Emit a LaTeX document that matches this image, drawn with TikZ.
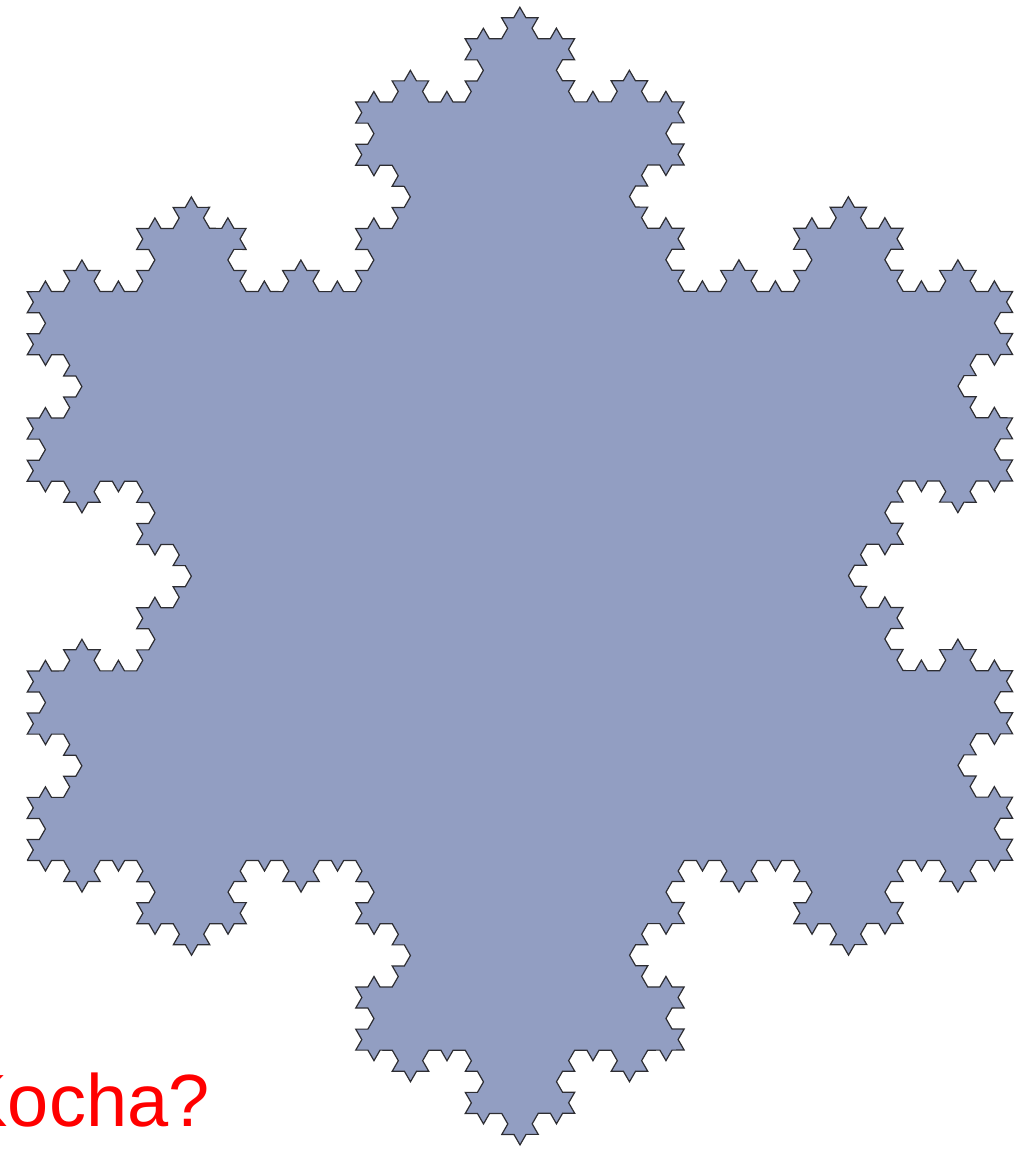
\documentclass[tikz,border=0pt]{standalone}
\usepackage{fontspec}
\setmainfont{Liberation Sans}
\usetikzlibrary{decorations.fractals}
\definecolor{flakefill}{RGB}{146,158,194}
\definecolor{flakeline}{RGB}{45,45,50}

\begin{document}
\begin{tikzpicture}[
  x=0.5pt, y=0.5pt,
  flake/.style={fill=flakefill, draw=flakeline, line width=0.6pt, line join=miter,
    decoration=Koch snowflake},
  question/.style={font=\fontsize{37}{40}\selectfont, text=red, inner sep=0pt},
]
\useasboundingbox (0,0) rectangle (1030,1150);

% level 4 snowflake, traversed clockwise so the bumps point outward
\path[flake] decorate{decorate{decorate{decorate{
  (27.2,289.5) -- ++(60:985.5) -- ++(-60:985.5) -- cycle}}}};

\node[question, anchor=base east] (kocha) at (210,24) {Kocha?};
\end{tikzpicture}
\end{document}
